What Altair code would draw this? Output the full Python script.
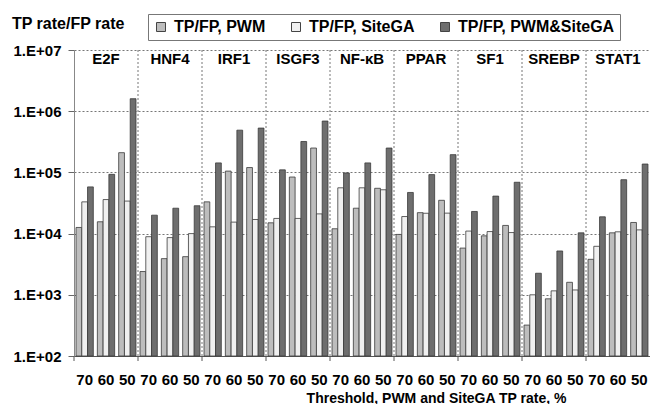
import altair as alt
import pandas as pd

# Transcription factors, thresholds and series
factors = ["E2F", "HNF4", "IRF1", "ISGF3", "NF-κB", "PPAR", "SF1", "SREBP", "STAT1"]
thresholds = ["70", "60", "50"]
series_names = ["TP/FP, PWM", "TP/FP, SiteGA", "TP/FP, PWM&SiteGA"]

# TP rate / FP rate, ordered factor by factor, thresholds 70, 60, 50
pwm = [1.26e4, 1.56e4, 2.1e5,
       2.4e3, 3.9e3, 4.2e3,
       3.3e4, 1.05e5, 1.2e5,
       1.5e4, 8.4e4, 2.5e5,
       1.2e4, 2.6e4, 5.5e4,
       9.7e3, 2.2e4, 3.5e4,
       5.8e3, 9.2e3, 1.36e4,
       320, 860, 1.6e3,
       3.8e3, 1.03e4, 1.52e4]
sitega = [3.3e4, 3.6e4, 3.4e4,
          8.9e3, 8.6e3, 1.0e4,
          1.29e4, 1.54e4, 1.7e4,
          1.77e4, 1.77e4, 2.1e4,
          5.6e4, 5.6e4, 5.2e4,
          1.9e4, 2.15e4, 2.16e4,
          1.1e4, 1.08e4, 1.04e4,
          1.0e3, 1.16e3, 1.2e3,
          6.2e3, 1.07e4, 1.15e4]
combined = [5.8e4, 9.3e4, 1.6e6,
            2.0e4, 2.6e4, 2.85e4,
            1.43e5, 4.9e5, 5.3e5,
            1.1e5, 3.2e5, 6.9e5,
            9.8e4, 1.43e5, 2.5e5,
            4.7e4, 9.2e4, 1.95e5,
            2.3e4, 4.1e4, 6.9e4,
            2.25e3, 5.2e3, 1.03e4,
            1.88e4, 7.6e4, 1.37e5]

y_ticks = [1e2, 1e3, 1e4, 1e5, 1e6, 1e7]
y_title = "TP rate/FP rate"
x_title = "Threshold, PWM and SiteGA TP rate, %"
fills = ["#bdbdbd", "#f0f0f0", "#6e6e6e"]

slots = [f"{f}|{t}" for f in factors for t in thresholds]
rows = []
for name, vals in zip(series_names, [pwm, sitega, combined]):
    for slot, v in zip(slots, vals):
        rows.append({"slot": slot, "series": name, "value": v})
df = pd.DataFrame(rows)

W, H = 576, 306
FONT = "Liberation Sans"

xscale = alt.Scale(domain=slots, paddingInner=0, paddingOuter=0)
xaxis = alt.Axis(
    title=x_title, labelExpr="split(datum.label, '|')[1]", ticks=False,
    labelPadding=16, labelFontSize=15, labelFontWeight="bold", labelColor="black",
    labelAngle=0, labelOverlap=False, domainColor="#555", grid=False,
    titleFontSize=14, titleFontWeight="bold", titleColor="black",
    titleX=362, titleY=42, titleAlign="center", titleBaseline="middle",
)

bars = alt.Chart(df).mark_bar(stroke="#3a3a3a", strokeWidth=0.8).encode(
    x=alt.X("slot:N", scale=xscale, axis=xaxis),
    xOffset=alt.XOffset("series:N", sort=series_names,
                        scale=alt.Scale(domain=series_names, paddingInner=0, paddingOuter=0.35)),
    y=alt.Y("value:Q",
            scale=alt.Scale(type="log", domain=[1e2, 1e7], nice=False),
            axis=alt.Axis(title=None, values=y_ticks,
                          labelExpr="'1.E+' + format(log(datum.value) / LN10, '02.0f')",
                          labelFontSize=15, labelFontWeight="bold", labelColor="black",
                          labelPadding=7, tickSize=6, tickColor="#666", domainColor="#888",
                          grid=True, gridDash=[2, 2], gridColor="#777", gridWidth=1)),
    y2=alt.datum(1e2),
    color=alt.Color("series:N",
                    scale=alt.Scale(domain=series_names, range=fills),
                    legend=alt.Legend(title=None, orient="none", legendX=74, legendY=-36,
                                      direction="horizontal", columns=3,
                                      symbolType="square", symbolSize=81,
                                      symbolStrokeColor="#444", symbolStrokeWidth=1,
                                      labelFontSize=16, labelFontWeight="bold",
                                      labelColor="black", labelOffset=5, labelLimit=300,
                                      columnPadding=22, padding=5,
                                      strokeColor="#777", fillColor="white")),
)

# dotted separators between factor groups
sep_df = pd.DataFrame({"slot": [f"{f}|70" for f in factors[1:]]})
seps = alt.Chart(sep_df).mark_rule(strokeDash=[2, 2], color="#777", strokeWidth=1).encode(
    x=alt.X("slot:N", scale=xscale, axis=xaxis, bandPosition=0),
    y=alt.value(0), y2=alt.value(H),
)

# small x ticks at group boundaries
tick_df = pd.DataFrame({"slot": [f"{f}|70" for f in factors]})
xticks = alt.Chart(tick_df).mark_rule(color="#555", strokeWidth=1).encode(
    x=alt.X("slot:N", scale=xscale, axis=xaxis, bandPosition=0),
    y=alt.value(H), y2=alt.value(H + 5),
)

# factor names at top of each group
lab_df = pd.DataFrame({"slot": [f"{f}|60" for f in factors], "name": factors})
group_labels = alt.Chart(lab_df).mark_text(
    fontSize=15, fontWeight="bold", baseline="middle", color="black", font=FONT
).encode(
    x=alt.X("slot:N", scale=xscale, axis=xaxis),
    y=alt.value(9),
    text="name:N",
)

# y title in the top-left corner
ttl = alt.Chart(pd.DataFrame({"t": [y_title]})).mark_text(
    fontSize=16, fontWeight="bold", align="left", baseline="middle", color="black", font=FONT
).encode(x=alt.value(-62), y=alt.value(-26), text="t:N")

chart = alt.layer(seps, bars, xticks, group_labels, ttl).properties(
    width=W, height=H,
    autosize=alt.AutoSizeParams(type="none"),
    padding={"left": 74, "top": 50, "right": 0, "bottom": 48},
).configure(font=FONT).configure_view(stroke=None)

chart.save("out.html", embed_options={"renderer": "svg", "actions": False})
